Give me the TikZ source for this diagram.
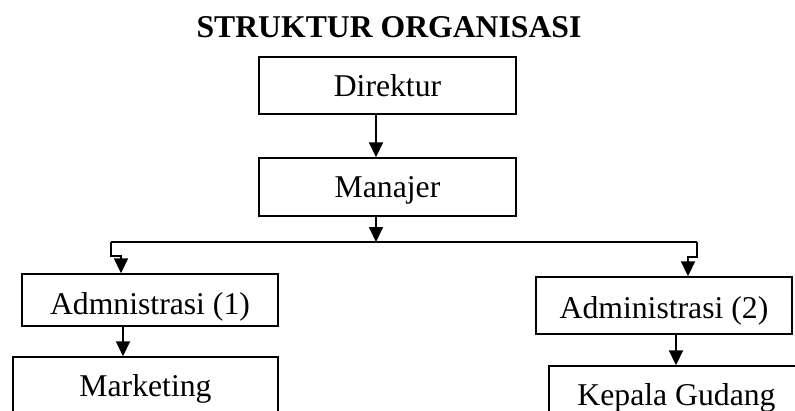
\documentclass[tikz,border=0pt]{standalone}
\usepackage{fontspec}
\setmainfont{Liberation Serif}
\usetikzlibrary{arrows.meta}
\begin{document}
\begin{tikzpicture}[x=1pt,y=-1pt,
  every node/.style={font=\fontsize{31.7}{38}\selectfont},
  orgbox/.style={draw, line width=1.4pt, inner sep=0pt, text height=21pt, text depth=0pt, anchor=center},
  arr/.style={line width=1.8pt, -{Triangle[length=15pt,width=14pt]}},
  lin/.style={line width=1.8pt}]
\useasboundingbox (0,0) rectangle (795,410);
\clip (0,0) rectangle (795,410);
\node[font=\fontsize{31.7}{38}\selectfont\bfseries, anchor=base] (title) at (389,37) {STRUKTUR ORGANISASI};
\node[orgbox, minimum width=257pt, minimum height=57pt] (dir) at (387.5,85.5) {Direktur};
\node[orgbox, minimum width=257pt, minimum height=58pt] (man) at (387.5,187) {Manajer};
\node[orgbox, minimum width=256pt, minimum height=52pt, text height=28pt] (a1) at (150,300) {Admnistrasi (1)};
\node[orgbox, minimum width=256pt, minimum height=57pt, text height=26pt] (a2) at (664,305.5) {Administrasi (2)};
\node[orgbox, minimum width=265pt, minimum height=57pt] (mk) at (145.5,385.5) {Marketing};
\node[orgbox, minimum width=255pt, minimum height=57pt] (kg) at (676.5,394.5) {Kepala Gudang};
\coordinate (bus) at (376,242);
\coordinate (busL) at (111,242);
\coordinate (busR) at (697,242);
\draw[arr] (dir.south -| bus) -- (man.north -| bus);
\draw[arr] (man.south -| bus) -- (bus);
\draw[lin] (busL) -- (busR);
\draw[arr] (busL) -- (111,256) -- (121,256) -- (a1.north -| 121,0);
\draw[arr] (busR) -- (697,257) -- (688,257) -- (a2.north -| 688,0);
\draw[arr] (a1.south -| 123,0) -- (mk.north -| 123,0);
\draw[arr] (a2.south -| 676,0) -- (kg.north -| 676,0);
\end{tikzpicture}
\end{document}
